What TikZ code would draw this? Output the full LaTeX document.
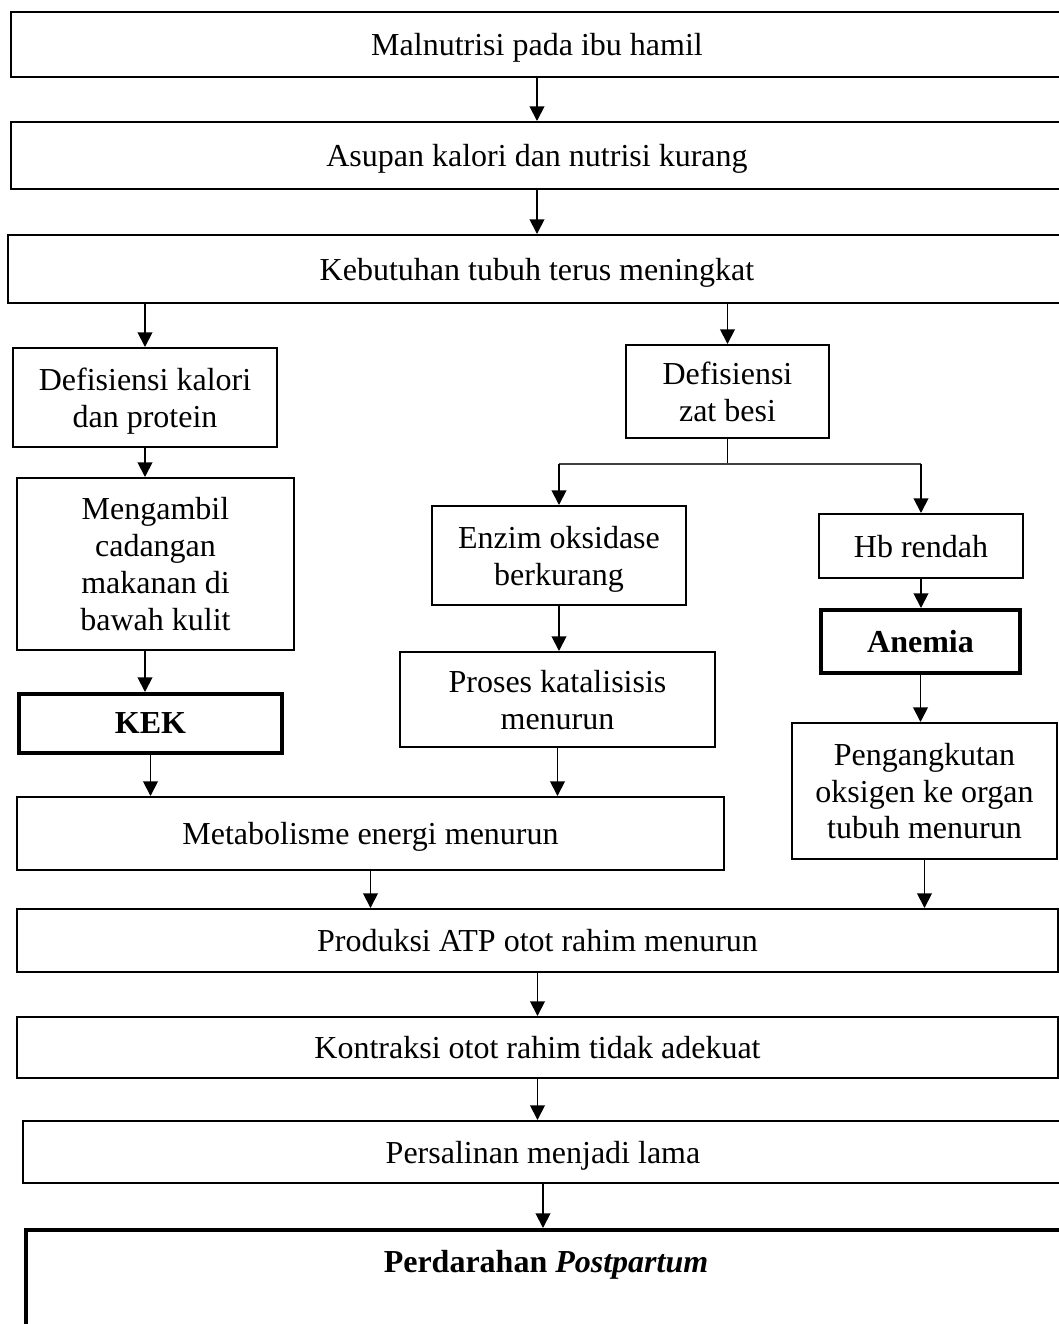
\documentclass[tikz,border=0pt]{standalone}
\usepackage{fontspec}
\setmainfont{Liberation Serif}
\usetikzlibrary{arrows.meta,positioning}

\begin{document}
\begin{tikzpicture}[x=0.375pt,y=-0.375pt,
	box/.style={draw, line width=0.75pt, align=center, inner sep=0pt, text depth=0pt, font=\fontsize{12}{13.8}\selectfont},
	boldbox/.style={box, line width=1.5pt, font=\fontsize{12}{13.8}\selectfont\bfseries},
	boxsize/.style 2 args={minimum width=#1*0.375pt, minimum height=#2*0.375pt},
	arr/.style={-{Triangle[length=5.5pt,width=5.5pt]}, line width=0.7pt}]
		\clip (0,0) rectangle (1059,1324);
		% main chain, top
		\node[box, boxsize={1052}{65}] (malnutrisi) at (537,44.5) {Malnutrisi pada ibu hamil};
		\node[box, boxsize={1052}{67}] (asupan) at (537,155.5) {Asupan kalori dan nutrisi kurang};
		\node[box, boxsize={1058}{68}] (kebutuhan) at (537,269) {Kebutuhan tubuh terus meningkat};
		% left branch
		\node[box, boxsize={263.5}{99}] (defkalori) at (145,397.5) {Defisiensi kalori\\dan protein};
		\node[box, boxsize={277}{172}] (cadangan) at (155.5,564) {Mengambil\\cadangan\\makanan di\\bawah kulit};
		\node[boldbox, boxsize={263}{59}] (kek) at (150.5,723.5) {KEK};
		% right branch
		\node[box, boxsize={203}{93}] (defbesi) at (727.5,391.5) {Defisiensi\\zat besi};
		\node[box, boxsize={254}{99}] (enzim) at (559,555.5) {Enzim oksidase\\berkurang};
		\node[box, boxsize={315}{95}] (katalisis) at (557.5,699.5) {Proses katalisisis\\menurun};
		\node[box, boxsize={204}{64}] (hb) at (921,546) {Hb rendah};
		\node[boldbox, boxsize={199}{63}] (anemia) at (920.5,641.5) {Anemia};
		\node[box, boxsize={265}{136}] (oksigen) at (924.5,791) {Pengangkutan\\oksigen ke organ\\tubuh menurun};
		% main chain, bottom
		\node[box, boxsize={707}{73}] (metabolisme) at (370.5,833.5) {Metabolisme energi menurun};
		\node[box, boxsize={1041}{63}] (atp) at (537.5,940.5) {Produksi ATP otot rahim menurun};
		\node[box, boxsize={1041}{61}] (kontraksi) at (537.5,1047.5) {Kontraksi otot rahim tidak adekuat};
		\node[box, boxsize={1040}{62}] (persalinan) at (543,1152) {Persalinan menjadi lama};
		\node[boldbox, minimum width=1040*0.375pt, anchor=north, text height=15.75pt, text depth=26pt] (perdarahan) at (546,1228) {Perdarahan \textit{Postpartum}};

		\draw[arr] (malnutrisi) -- (asupan);
		\draw[arr] (asupan) -- (kebutuhan);
		\draw[arr] (kebutuhan.south -| defkalori.north) -- (defkalori.north);
		\draw[arr] (kebutuhan.south -| defbesi.north) -- (defbesi.north);
		\draw[arr] (defkalori.south) -- (defkalori.south |- cadangan.north);
		\draw[arr] (defkalori.south |- cadangan.south) -- (defkalori.south |- kek.north);
		\draw[arr] (kek.south) -- (kek.south |- metabolisme.north);
		\draw[line width=0.7pt] (defbesi.south) -- ++(0,25) coordinate (split);
		\draw[line width=0.4pt, black!75] (enzim.north |- split) -- (hb.north |- split);
		\draw[arr] (enzim.north |- split) -- (enzim.north);
		\draw[arr] (hb.north |- split) -- (hb.north);
		\draw[arr] (enzim.south) -- (enzim.south |- katalisis.north);
		\draw[arr] (katalisis.south) -- (katalisis.south |- metabolisme.north);
		\draw[arr] (hb.south) -- (hb.south |- anemia.north);
		\draw[arr] (anemia.south) -- (anemia.south |- oksigen.north);
		\draw[arr] (oksigen.south) -- (oksigen.south |- atp.north);
		\draw[arr] (metabolisme.south) -- (metabolisme.south |- atp.north);
		\draw[arr] (atp.south) -- (atp.south |- kontraksi.north);
		\draw[arr] (kontraksi.south) -- (kontraksi.south |- persalinan.north);
		\draw[arr] (persalinan.south) -- (persalinan.south |- perdarahan.north);
	\end{tikzpicture}
\end{document}
